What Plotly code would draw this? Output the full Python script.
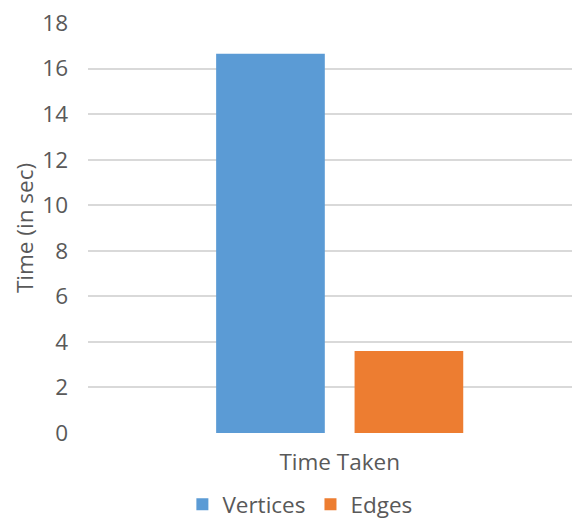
import plotly.graph_objects as go

categories = ["Time Taken"]
series_names = ["Vertices", "Edges"]
vertices = [16.65]
edges = [3.6]
colors = ["#5B9BD5", "#ED7D31"]
y_ticks = [0, 2, 4, 6, 8, 10, 12, 14, 16, 18]

FONT = "Open Sans"
GRAY = "#595959"
FS = 22.5

fig = go.Figure()
for name, vals, col in zip(series_names, [vertices, edges], colors):
    fig.add_trace(go.Bar(
        x=[0], y=vals, name=name, marker=dict(color=col, line=dict(width=0)),
    ))

fig.update_layout(
    width=572, height=526,
    margin=dict(l=88, r=0, t=23, b=93, pad=0, autoexpand=False),
    paper_bgcolor="white", plot_bgcolor="white",
    barmode="group", bargap=0.45, bargroupgap=0.215,
    font=dict(family=FONT, color=GRAY, size=FS),
    showlegend=True,
    legend=dict(orientation="h", x=0.195, xanchor="left",
                yref="container", y=0.0, yanchor="bottom",
                font=dict(size=FS, color=GRAY, family=FONT), itemwidth=30,
                traceorder="normal"),
)
fig.update_xaxes(
    range=[-0.5, 0.4615], tickmode="array", tickvals=[0], ticktext=categories,
    showgrid=False, showline=False, zeroline=False, ticks="", ticklabelstandoff=13,
    tickfont=dict(size=FS, color=GRAY, family=FONT),
)
fig.update_yaxes(
    range=[0, 18], tickmode="array", tickvals=y_ticks,
    showgrid=True, gridcolor="#D9D9D9", gridwidth=1.5, zeroline=False, showline=False,
    ticks="", ticklabelstandoff=19,
    tickfont=dict(size=FS, color=GRAY, family=FONT),
    title=dict(text="Time (in sec)", font=dict(size=FS, color=GRAY, family=FONT), standoff=2),
)

fig.write_html("out.html")
